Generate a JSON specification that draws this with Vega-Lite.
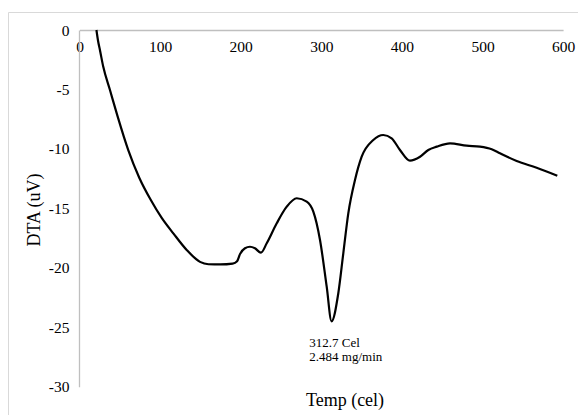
{
  "$schema": "https://vega.github.io/schema/vega-lite/v6.json",
  "width": 570,
  "height": 403,
  "autosize": {"type": "none"},
  "padding": {"left": 8, "top": 12, "right": 0, "bottom": 0},
  "background": "white",
  "config": {
    "view": {"stroke": "#d9d9d9", "strokeWidth": 1},
    "font": "Liberation Serif",
    "axis": {"labelFont": "Liberation Serif", "titleFont": "Liberation Serif"}
  },
  "datasets": {
    "dta": [
      {"temp": 21, "dta": 0},
      {"temp": 23, "dta": -0.9},
      {"temp": 25.4, "dta": -1.7},
      {"temp": 29.5, "dta": -3.1},
      {"temp": 37.8, "dta": -5.05},
      {"temp": 47, "dta": -7.2},
      {"temp": 60.5, "dta": -10.1},
      {"temp": 74, "dta": -12.4},
      {"temp": 88.5, "dta": -14.3},
      {"temp": 102, "dta": -15.8},
      {"temp": 116.4, "dta": -17.1},
      {"temp": 133, "dta": -18.5},
      {"temp": 149.5, "dta": -19.5},
      {"temp": 160, "dta": -19.7},
      {"temp": 175, "dta": -19.72},
      {"temp": 190, "dta": -19.65},
      {"temp": 195.5, "dta": -19.45},
      {"temp": 199.1, "dta": -18.85},
      {"temp": 205.3, "dta": -18.36},
      {"temp": 211.5, "dta": -18.23},
      {"temp": 217.7, "dta": -18.36},
      {"temp": 225.1, "dta": -18.73},
      {"temp": 232.3, "dta": -17.94},
      {"temp": 244.7, "dta": -16.26},
      {"temp": 257.1, "dta": -14.86},
      {"temp": 269.5, "dta": -14.15},
      {"temp": 281.9, "dta": -14.44},
      {"temp": 290.1, "dta": -15.28},
      {"temp": 298.4, "dta": -17.66},
      {"temp": 306.7, "dta": -21.59},
      {"temp": 312.7, "dta": -24.5},
      {"temp": 321.1, "dta": -22.14},
      {"temp": 327.3, "dta": -18.78},
      {"temp": 333.5, "dta": -15.42},
      {"temp": 341.8, "dta": -12.62},
      {"temp": 350.1, "dta": -10.66},
      {"temp": 364.5, "dta": -9.25},
      {"temp": 376.9, "dta": -8.83},
      {"temp": 387.3, "dta": -9.11},
      {"temp": 397.6, "dta": -10.09},
      {"temp": 410, "dta": -10.99},
      {"temp": 422.5, "dta": -10.66},
      {"temp": 432.8, "dta": -10.09},
      {"temp": 443.2, "dta": -9.81},
      {"temp": 459.7, "dta": -9.53},
      {"temp": 480.4, "dta": -9.73},
      {"temp": 496.9, "dta": -9.81},
      {"temp": 511.4, "dta": -10.03},
      {"temp": 521.7, "dta": -10.37},
      {"temp": 542.4, "dta": -11.02},
      {"temp": 567.2, "dta": -11.58},
      {"temp": 592.8, "dta": -12.25}
    ],
    "peak": [
      {"temp": 312.7, "dta": -24.5, "label": "312.7 Cel\n2.484 mg/min"}
    ]
  },
  "layer": [
    {
      "data": {"name": "dta"},
      "mark": {"type": "line", "color": "#000000", "strokeWidth": 2.2, "interpolate": "monotone"},
      "encoding": {
        "x": {
          "field": "temp",
          "type": "quantitative",
          "scale": {"domain": [0, 600], "range": [71.5, 555.1], "nice": false, "zero": false},
          "axis": {
            "orient": "bottom",
            "offset": -385,
            "title": "Temp (cel)",
            "titleFont": "Liberation Serif",
            "titleFontSize": 18,
            "titleFontWeight": "normal",
            "titleColor": "#000000",
            "titleAlign": "center",
            "titleBaseline": "alphabetic",
            "titleX": 336.5,
            "titleY": 375,
            "values": [0, 100, 200, 300, 400, 500, 600],
            "labelExpr": "toString(datum.value)",
            "ticks": false,
            "tickSize": 0,
            "grid": false,
            "labelPadding": 9,
            "labelFont": "Liberation Serif",
            "labelFontSize": 15.5,
            "labelColor": "#000000",
            "labelFlush": false,
            "labelOverlap": false,
            "domainColor": "#bfbfbf",
            "domainWidth": 1.3
          }
        },
        "y": {
          "field": "dta",
          "type": "quantitative",
          "scale": {"domain": [-30, 0], "range": [374.7, 18], "nice": false, "zero": false},
          "axis": {
            "orient": "left",
            "offset": -71,
            "title": "DTA (uV)",
            "titleFont": "Liberation Serif",
            "titleFontSize": 18,
            "titleFontWeight": "normal",
            "titleColor": "#000000",
            "titleAngle": -90,
            "titleAlign": "center",
            "titleBaseline": "alphabetic",
            "titleX": -39.5,
            "titleY": 197.5,
            "values": [-30, -25, -20, -15, -10, -5, 0],
            "labelExpr": "toString(datum.value)",
            "ticks": false,
            "tickSize": 0,
            "grid": false,
            "labelPadding": 10,
            "labelFont": "Liberation Serif",
            "labelFontSize": 15.5,
            "labelColor": "#000000",
            "labelFlush": false,
            "labelOverlap": false,
            "domainColor": "#bfbfbf",
            "domainWidth": 1.3
          }
        }
      }
    },
    {
      "data": {"name": "peak"},
      "mark": {
        "type": "text",
        "align": "left",
        "baseline": "alphabetic",
        "lineBreak": "\n",
        "lineHeight": 14,
        "dx": -22.2,
        "dy": 26,
        "font": "Liberation Serif",
        "fontSize": 13,
        "color": "#000000"
      },
      "encoding": {
        "x": {"field": "temp", "type": "quantitative"},
        "y": {"field": "dta", "type": "quantitative"},
        "text": {"field": "label"}
      }
    }
  ]
}
